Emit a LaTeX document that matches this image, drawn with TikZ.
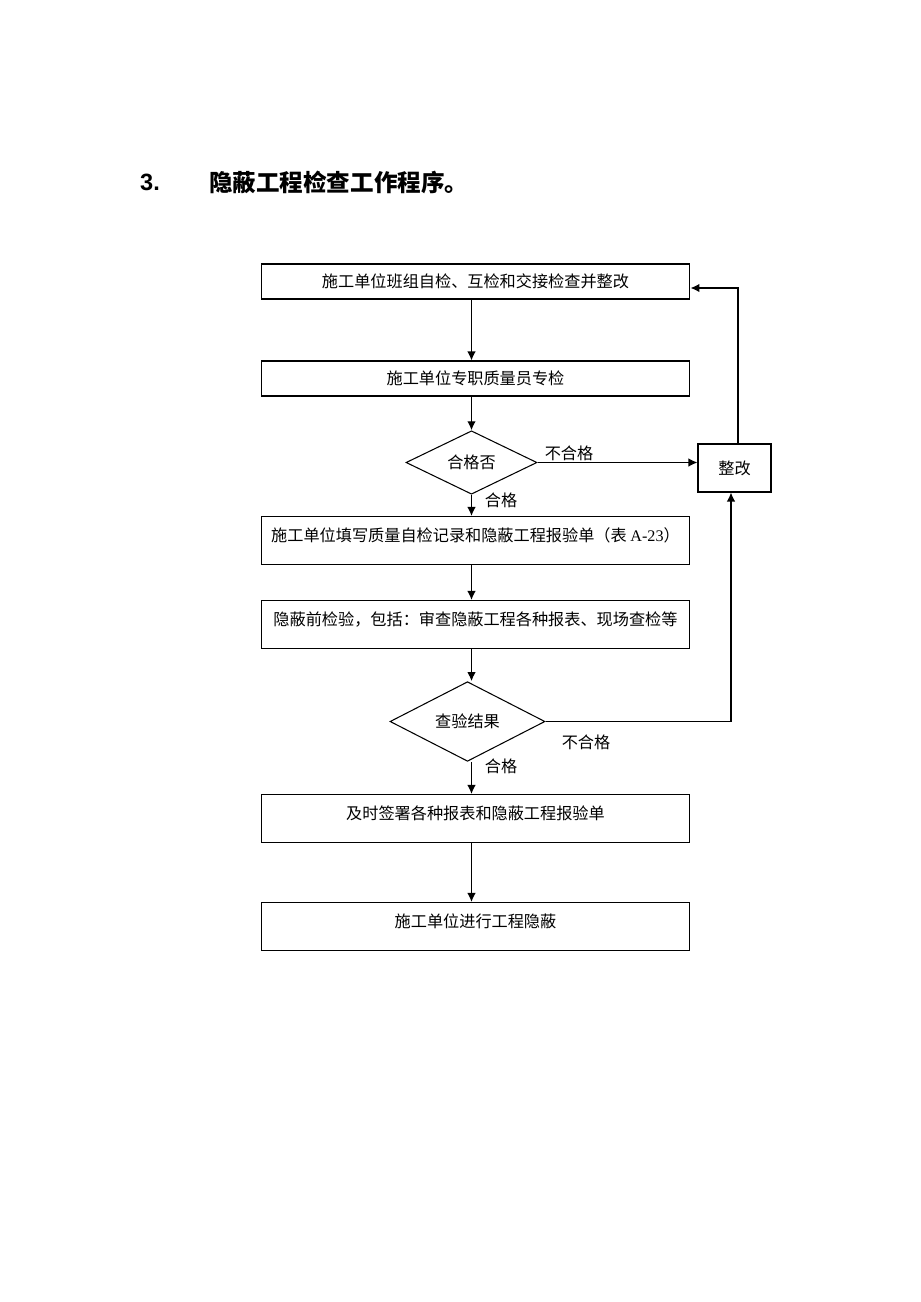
\documentclass[tikz,border=0pt]{standalone}
\usepackage{fontspec}
\setmainfont{Noto Sans CJK SC}
\newfontfamily\numfont{Liberation Sans}
\newfontfamily\latfont{Liberation Serif}
\usetikzlibrary{shapes.geometric,arrows.meta}

\begin{document}
\begin{tikzpicture}[x=0.02cm,y=-0.02cm,
  every node/.style={font=\fontsize{9.2}{11}\selectfont},
  box/.style={draw,line width=0.6pt,minimum width=8.58cm,
    minimum height=0.7cm,inner sep=0pt},
  tallbox/.style={box,minimum height=0.96cm,text height=8pt,text depth=7pt},
  check/.style={draw,diamond,line width=0.6pt,inner sep=0pt},
  flow/.style={line width=0.75pt,-{Latex[length=1.8mm,width=1.7mm]}},]

  \useasboundingbox (0,0) rectangle (920,1302);

  % title
  \node[font=\fontsize{13.4}{16}\selectfont\bfseries\numfont] (num) at (150,182) {3.};
  \node[anchor=west,font=\fontsize{13.4}{16}\selectfont\bfseries] (title) at (203,182)
    {隐蔽工程检查工作程序。};

  % self checks
  \node[box] (box1) at (475.5,281.5) {施工单位班组自检、互检和交接检查并整改};
  \node[box] (box2) at (475.5,378.5) {施工单位专职质量员专检};
  \node[check,minimum width=2.62cm,minimum height=1.18cm] (chk) at (471.5,462.5) {合格否};
  \node[box,minimum width=1.46cm,minimum height=0.96cm] (fix) at (734.5,468) {整改};
  \node[] (lbl1) at (569,453) {不合格};
  \node[] (lbl2) at (501,500) {合格};

  % reports and inspection
  \node[tallbox] (box3) at (475.5,540.5)
    {施工单位填写质量自检记录和隐蔽工程报验单（表 {\latfont A-23}）};
  \node[tallbox] (box4) at (475.5,624.5)
    {隐蔽前检验，包括：审查隐蔽工程各种报表、现场查检等};
  \node[check,minimum width=3.1cm,minimum height=1.42cm] (res) at (467.5,721.5) {查验结果};
  \node[] (lbl3) at (586,742) {不合格};
  \node[] (lbl4) at (501,766) {合格};

  % sign off
  \node[tallbox] (box5) at (475.5,818.5) {及时签署各种报表和隐蔽工程报验单};
  \node[tallbox] (box6) at (475.5,926.5) {施工单位进行工程隐蔽};

  % arrows
  \draw[flow] (box1.south -| chk.north) -- (box2.north -| chk.north);
  \draw[flow] (box2.south -| chk.north) -- (chk.north);
  \draw[flow] (chk.east) -- (fix.west |- chk.east);
  \draw[flow] ([xshift=0.07cm]fix.north) |- ([yshift=-0.13cm]box1.east);
  \draw[flow] (chk.south) -- (box3.north -| chk.south);
  \draw[flow] (box3.south -| chk.north) -- (box4.north -| chk.north);
  \draw[flow] (box4.south -| chk.north) -- (res.north -| chk.north);
  \draw[flow] (res.south -| chk.north) -- (box5.north -| chk.north);
  \draw[flow] (res.east) -| ([xshift=-0.07cm]fix.south);
  \draw[flow] (box5.south -| chk.north) -- (box6.north -| chk.north);

\end{tikzpicture}
\end{document}
